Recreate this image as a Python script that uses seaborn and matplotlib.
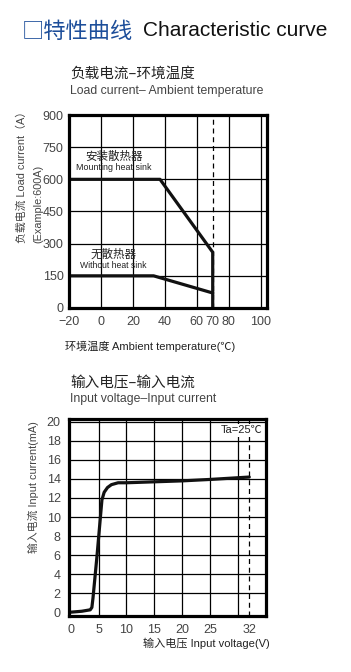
import matplotlib
matplotlib.use("Agg")
import matplotlib.pyplot as plt
import seaborn as sns
import pandas as pd

# ---- data ----
temp_mount = [-20, 37, 70, 70]
load_mount = [600, 600, 260, 0]
temp_nosink = [-20, 33, 70]
load_nosink = [150, 150, 70]
top_xticks = [-20, 0, 20, 40, 60, 70, 80, 100]
top_xlabels = ["−20", "0", "20", "40", "60", "70", "80", "100"]
top_yticks = [0, 150, 300, 450, 600, 750, 900]

voltage = [0, 2, 3.5, 3.8, 4.0, 4.7, 5.6, 6.0, 6.6, 7.3, 8.5, 10, 15, 20, 25, 32]
current = [0.0, 0.1, 0.25, 0.5, 1.5, 5.8, 11.8, 12.6, 13.1, 13.4, 13.6, 13.6, 13.7, 13.8, 13.95, 14.2]
bot_xticks = [0, 5, 10, 15, 20, 25, 32]
bot_yticks = [0, 2, 4, 6, 8, 10, 12, 14, 16, 18, 20]

sns.set_theme(style="white")
plt.rcParams['font.family'] = ['Liberation Sans', 'Noto Sans CJK SC', 'DejaVu Sans']

fig = plt.figure(figsize=(3.51, 6.72), dpi=100)
W, H = 351, 672

def axrect(l, t, r, b):
    return [l / W, 1 - b / H, (r - l) / W, (b - t) / H]

TXT = "#222222"
GRAY = "#444444"

# ---- header ----
fig.text(22 / W, 1 - 31 / H, "□特性曲线", color="#1d4e9a", fontsize=16, va="center", ha="left",
         family=['Noto Sans CJK SC', 'DejaVu Sans'])
fig.text(143 / W, 1 - 31 / H, "Characteristic curve", color="#111111", fontsize=15, va="center", ha="left")

# ---- top chart ----
ax1 = fig.add_axes(axrect(69, 115, 267, 308))
df_m = pd.DataFrame({"t": temp_mount, "l": load_mount})
df_n = pd.DataFrame({"t": temp_nosink, "l": load_nosink})
sns.lineplot(data=df_m, x="t", y="l", ax=ax1, color="#111111", lw=2.3, sort=False, estimator=None)
sns.lineplot(data=df_n, x="t", y="l", ax=ax1, color="#111111", lw=2.3, sort=False, estimator=None)
ax1.set_xlim(-20, 104)
ax1.set_ylim(0, 900)
for x in [0, 20, 40, 60, 80, 100]:
    ax1.axvline(x, color="black", lw=0.9, zorder=0)
ax1.axvline(70, color="black", lw=0.9, ls=(0, (4, 3)), zorder=0)
for y in [150, 300, 450, 600, 750]:
    ax1.axhline(y, color="black", lw=0.9, zorder=0)
ax1.set_xticks(top_xticks)
ax1.set_xticklabels(top_xlabels)
ax1.set_yticks(top_yticks)
ax1.tick_params(axis="x", labelsize=9, colors=GRAY, length=0, pad=6)
ax1.tick_params(axis="y", labelsize=9, colors=GRAY, length=0, pad=4)
ax1.set_xlabel("")
ax1.set_ylabel("")
for s in ax1.spines.values():
    s.set_color("black")
    s.set_linewidth(2.3)
ax1.text(8, 707, "安装散热器", ha="center", va="center", fontsize=8.3, color=TXT,
         family=['Noto Sans CJK SC', 'DejaVu Sans'])
ax1.text(8, 657, "Mounting heat sink", ha="center", va="center", fontsize=6.4, color=TXT)
ax1.text(8, 249, "无散热器", ha="center", va="center", fontsize=8.3, color=TXT,
         family=['Noto Sans CJK SC', 'DejaVu Sans'])
ax1.text(8, 197, "Without heat sink", ha="center", va="center", fontsize=6.2, color=TXT)

fig.text(70 / W, 1 - 74 / H, "负载电流–环境温度", fontsize=10.5, color=TXT, va="center",
         family=['Noto Sans CJK SC', 'DejaVu Sans'])
fig.text(70 / W, 1 - 91 / H, "Load current– Ambient temperature", fontsize=8.8, color=GRAY, va="center")
fig.text(22 / W, 1 - 243 / H, "负载电流 Load current（A）", rotation=90, rotation_mode="anchor",
         ha="left", va="center", fontsize=7.8, color=GRAY)
fig.text(38 / W, 1 - 243 / H, "(Example:600A)", rotation=90, rotation_mode="anchor",
         ha="left", va="center", fontsize=7.8, color=GRAY)
fig.text(65 / W, 1 - 346 / H, "环境温度 Ambient temperature(℃)", fontsize=8, color=TXT, va="center")

# ---- bottom chart ----
ax2 = fig.add_axes(axrect(69, 419, 266, 616))
df_v = pd.DataFrame({"v": voltage, "c": current})
sns.lineplot(data=df_v, x="v", y="c", ax=ax2, color="#111111", lw=2.3, sort=False, estimator=None)
ax2.set_xlim(-0.3, 35)
ax2.set_ylim(-0.4, 20.3)
for x in [5, 10, 15, 20, 25, 30]:
    ax2.axvline(x, color="black", lw=0.9, zorder=0)
ax2.axvline(32, color="black", lw=0.9, ls=(0, (4, 3)), zorder=0)
for y in [2, 4, 6, 8, 10, 12, 14, 16, 18, 20]:
    ax2.axhline(y, color="black", lw=0.9, zorder=0)
ax2.set_xticks(bot_xticks)
ax2.set_yticks(bot_yticks)
ax2.tick_params(axis="both", labelsize=9, colors=GRAY, length=0, pad=6)
ax2.set_xlabel("")
ax2.set_ylabel("")
for s in ax2.spines.values():
    s.set_color("black")
    s.set_linewidth(2.3)
ax2.text(34.4, 19.1, "Ta=25℃", ha="right", va="center", fontsize=8, color=TXT,
         bbox=dict(facecolor="white", edgecolor="none", pad=1))

fig.text(70 / W, 1 - 383 / H, "输入电压–输入电流", fontsize=10.5, color=TXT, va="center",
         family=['Noto Sans CJK SC', 'DejaVu Sans'])
fig.text(70 / W, 1 - 399 / H, "Input voltage–Input current", fontsize=8.8, color=GRAY, va="center")
fig.text(33 / W, 1 - 487 / H, "输入电流 Input current(mA)", rotation=90, ha="center", va="center",
         fontsize=7.8, color=GRAY)
fig.text(270 / W, 1 - 643 / H, "输入电压 Input voltage(V)", ha="right", va="center", fontsize=8, color=TXT)

fig.savefig("out.png", dpi=100, facecolor="white")
